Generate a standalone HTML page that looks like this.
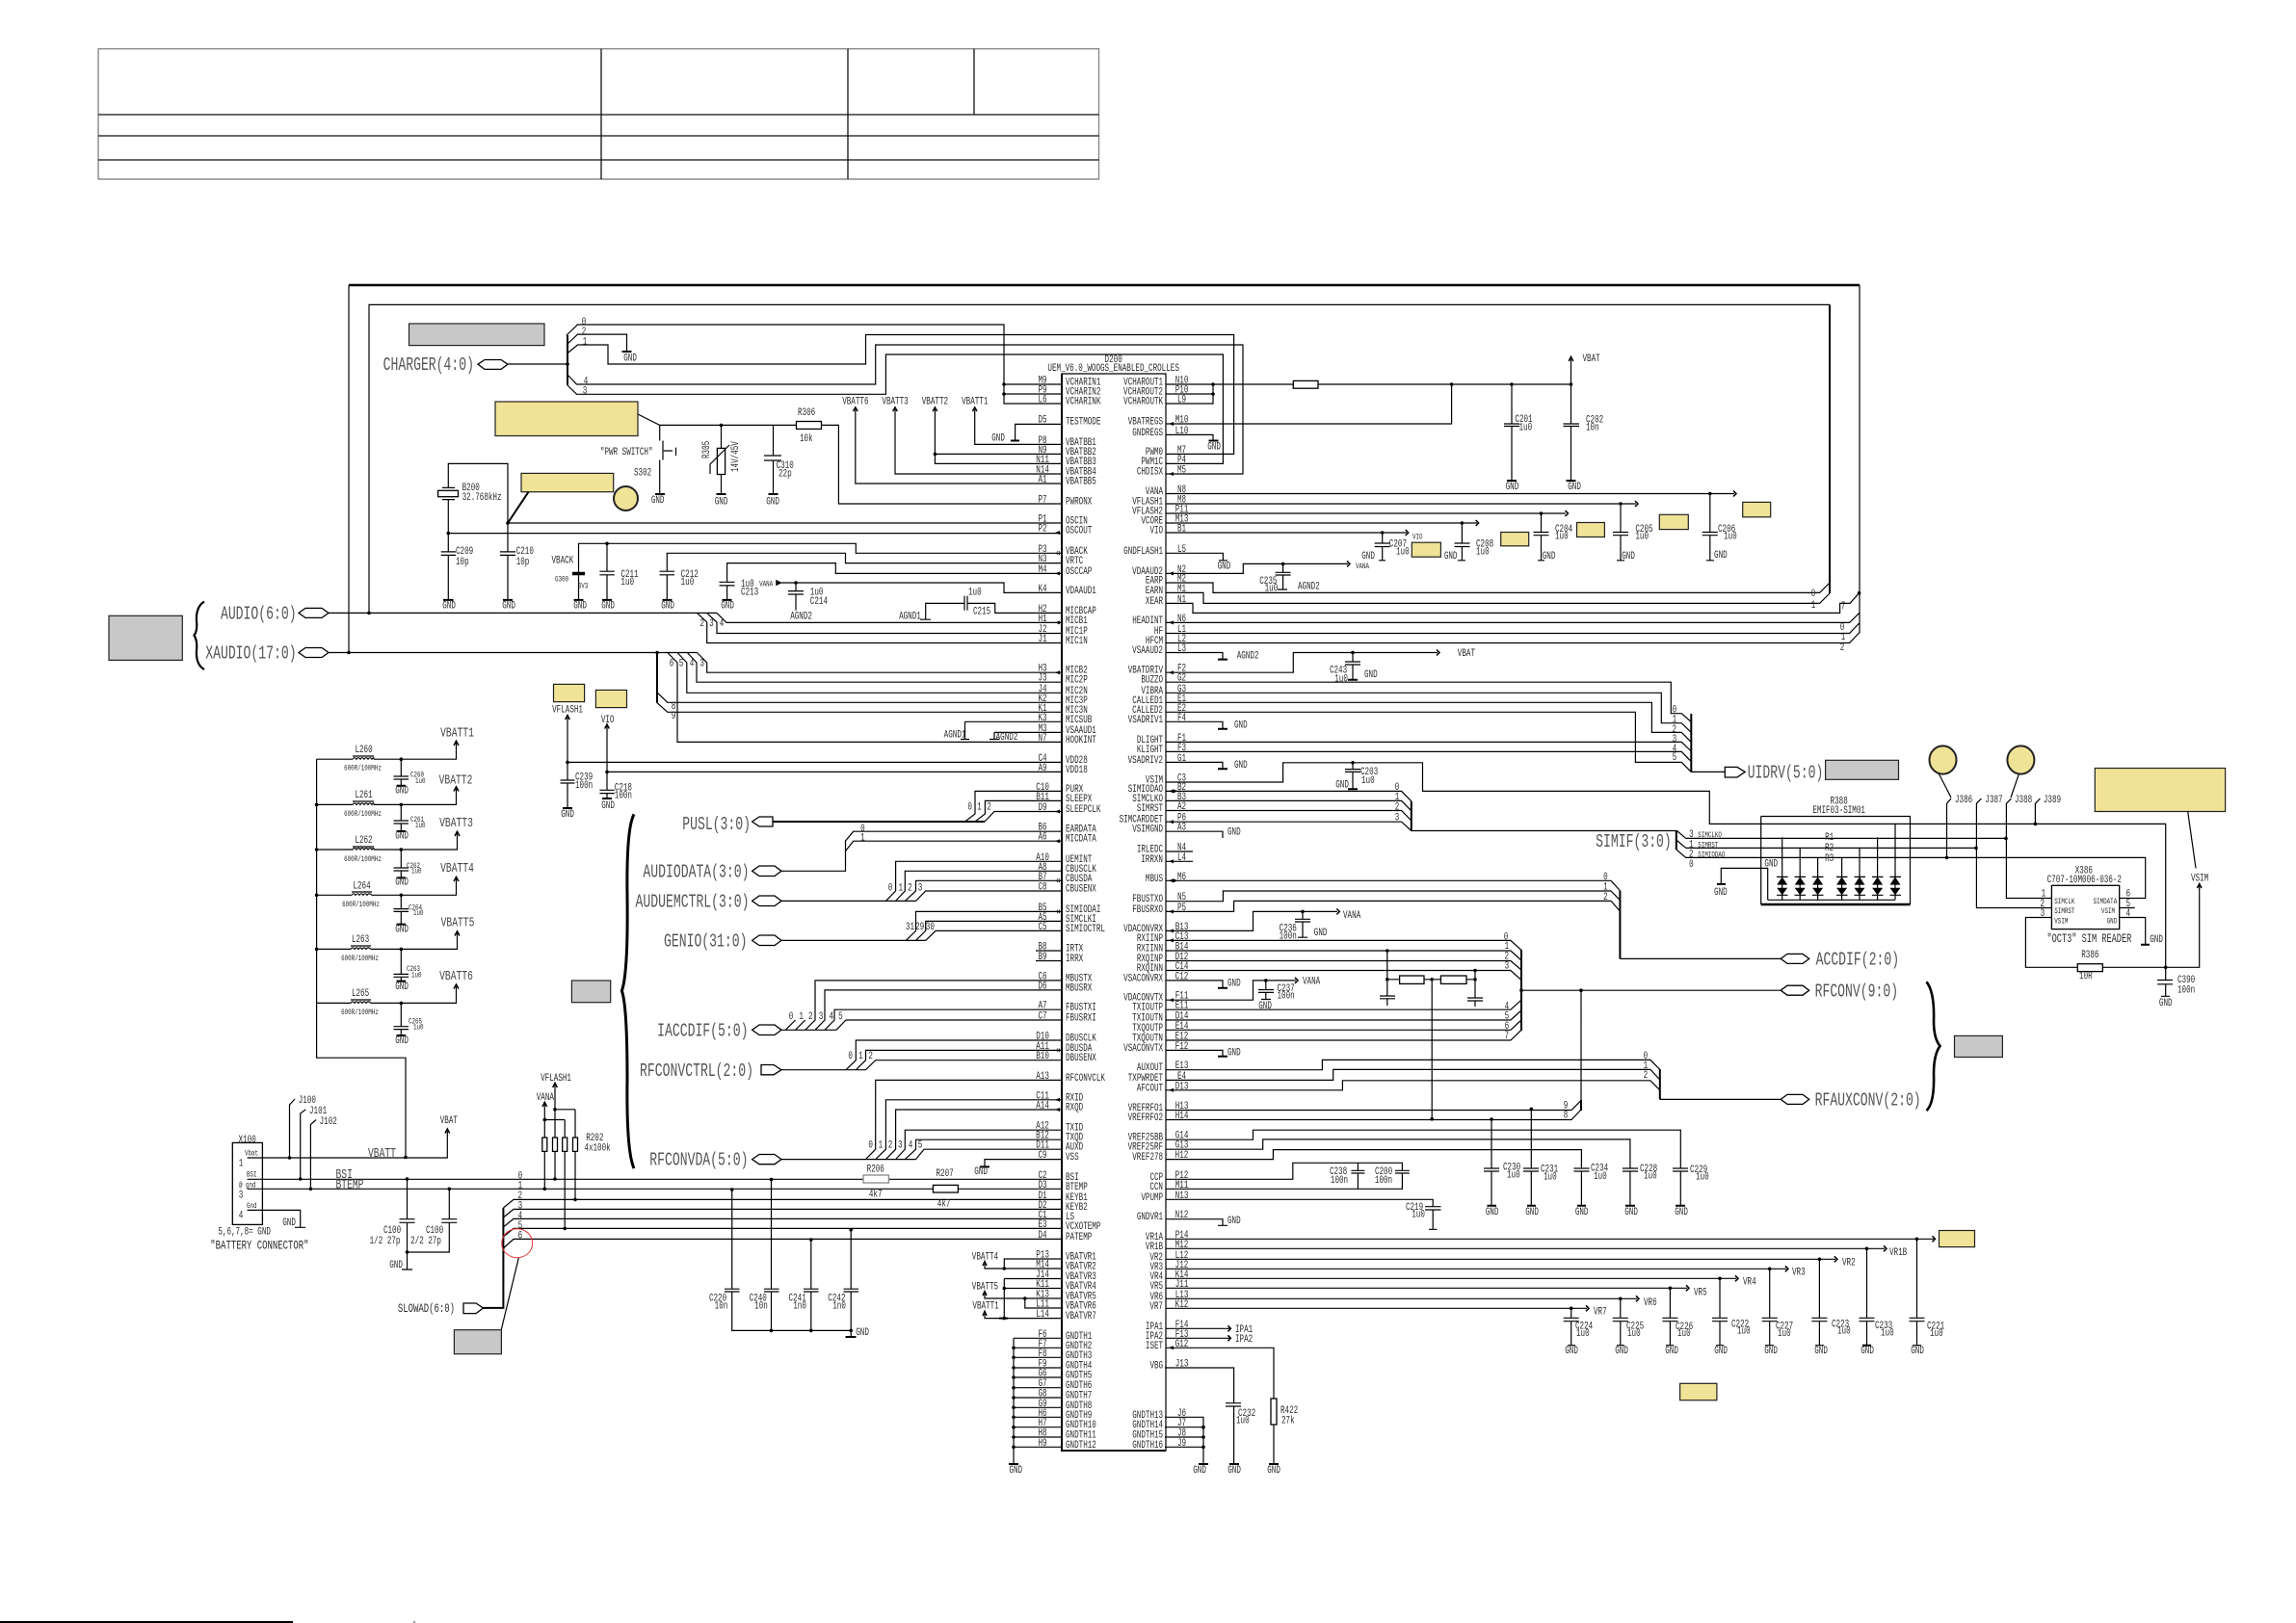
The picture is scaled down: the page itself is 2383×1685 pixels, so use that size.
<!DOCTYPE html>
<html><head><meta charset="utf-8"><title>Schematic</title>
<style>
html,body{margin:0;padding:0;background:#fff}
svg{display:block}
text{font-family:"Liberation Mono",monospace;font-size:11px;fill:#2a2a2a;transform-box:fill-box;transform-origin:0 50%;transform:scaleX(.69)}
.e text{text-anchor:end;transform-origin:100% 50%}
.m text{text-anchor:middle;transform-origin:50% 50%}
.t text{font-size:8.5px}
.b text{font-size:19px;transform:scaleX(.69);fill:#555}
.c text{font-size:14px;fill:#444}
.w{fill:none;stroke:#000;stroke-width:1.2}
.h{fill:none;stroke:#000;stroke-width:2}
.d{fill:none;stroke:#000;stroke-width:3.6;stroke-linecap:round}
.g{fill:#c8c8c8;stroke:#222;stroke-width:1.2}
.y{fill:#f0e296;stroke:#222;stroke-width:1.2}
.o{fill:#fff;stroke:#000;stroke-width:1.3}
.k{fill:#000;stroke:none}
</style></head><body>
<svg xmlns="http://www.w3.org/2000/svg" width="2383" height="1685" viewBox="0 0 2383 1685">
<rect width="2383" height="1685" fill="#fff"/>
<!-- table -->
<path fill="none" stroke="#8a8a8a" stroke-width="1.4" d="M102 50.7H1140.5V186H102Z"/>
<path fill="none" stroke="#111" stroke-width="1.3" d="M102 119H1140.5M102 141H1140.5M102 166H1140.5M624 50.7V186M880 50.7V186M1011 50.7V119"/>
<path class="h" d="M0 1684H304"/><path stroke="#224" d="M430 1683v2"/>

<!-- boxes -->
<rect class="g" x="424.5" y="336" width="140.5" height="22.6"/>
<rect class="g" x="113" y="639.3" width="76.3" height="46.1"/>
<rect class="g" x="593.4" y="1018" width="40.3" height="22.7"/>
<rect class="g" x="471.4" y="1380.7" width="49" height="25"/>
<rect class="g" x="1894.6" y="789.3" width="75.9" height="20"/>
<rect class="g" x="2028.5" y="1075.4" width="49.9" height="22.1"/>
<rect class="y" x="514" y="417" width="148" height="35.5"/>
<rect class="y" x="541" y="491.4" width="95.7" height="19.3"/>
<ellipse class="y" cx="649.5" cy="517.5" rx="12.5" ry="12.5" style="stroke-width:2"/>
<rect class="y" x="574.5" y="710.4" width="32.1" height="18.2"/>
<rect class="y" x="618.4" y="716.4" width="32.1" height="18.2"/>
<rect class="y" x="1465.3" y="563.2" width="30.1" height="15"/>
<rect class="y" x="1557.7" y="552.5" width="29" height="14.3"/>
<rect class="y" x="1636.5" y="542.5" width="28.9" height="15"/>
<rect class="y" x="1722.3" y="534.3" width="30" height="15.3"/>
<rect class="y" x="1808.7" y="521.4" width="29" height="15.4"/>
<ellipse class="y" cx="2016.5" cy="789" rx="14" ry="14.6" style="stroke-width:2"/>
<ellipse class="y" cx="2097.4" cy="789" rx="14" ry="14.6" style="stroke-width:2"/>
<rect class="y" x="2174.3" y="797.5" width="135.3" height="45"/>
<rect class="y" x="2012.5" y="1277.5" width="37" height="17.1"/>
<rect class="y" x="1743.6" y="1436.3" width="38.3" height="17.4"/>

<!-- chip -->
<path class="w" d="M1102 388H1210V1506H1102Z"/>
<path class="h" d="M1102 388V1506H1210"/>
<path class="h" style="stroke-width:2.6" d="M362 296H1930"/>

<!-- thin wires -->
<path class="w" d="M362 677.5V296M1930 296V657.5M383 636.4V316.4H1899
M341 636.4H744M723.5 636.4L733.7 646V667.5H1102M733.7 636.4L744 646V657.5H1102M744 636.4L754 646.4H1102
M341 677.5H723.5M682 677.5V729.3M692.8 677.5L703 688V770.4H1102M703 677.5L712.8 688V719.3H1102M713.3 677.5L723 688V708.2H1102M723.5 677.5L733.7 688V698.2H1102
M681.6 718.6L692.8 729.3H1102M681.6 729.3L692.8 739.3H1102
M527 378H589M588 348L599.5 337H1042V419H1102M1042 399H1102M1042 409H1102
M588 358L599.5 347.1H650.5V365M588 367.5L599.5 358H631V378H898.5V347.5H1280.6V471.4H1210
M589 389L598.5 399H908.7V358H1290V492H1210M589 400L598.5 409.3H919.4V368H1269.4V481.4H1210
M1102 440.4H1053.6V457.5M1011.7 425V461.4H1102M970.4 425V481.4H1102M970.4 471.4H1102M929 425V492H1102M887.8 425V502H1102
M662 430L684.7 441.4H826.5M852.5 441.4H870.4V523H1102M684.7 441.4V457.5M684.7 477.5V513M688 457.5V477.5M688.8 468H698M701.5 464.6V473
M748.5 441.4V465.4M748.5 492.5V513M737 492V482L757 462M802.5 441.4V473M802.5 478V513M793 473H811M793 478H811
M465.3 506V481.4H527V543H1102M527 543V572.9M527 576.4V622.9M519 572.9H535M519 576.4H535
M465.3 518.6V572.9M465.3 576.4V622.9M457.7 572.9H473M457.7 576.4H473M459 506.4H472M459 518.6H472M465.3 553.6H1102
M600.5 594.4V564.3H888.3V574.3H1102M600.5 596V622.9M594 594.4H607M630 564.3V593.2M630 596.8V622.9M622.4 593.2H637.8M622.4 596.8H637.8
M692.3 593.2V574.3H877.5V584.6H1102M692.3 596.8V622.9M684.5 593.2H700M684.5 596.8H700
M754.6 604.3V584.6H867.3V595.4H1102M754.6 607.9V622.9M746.5 604.3H762.5M746.5 607.9H762.5
M806 605H1042V615.4H1102M826 605V613.6M826 617V633.6M818 613.6H834M818 617H834
M955 643.2H966M960.7 643.2V626.4H1001M1004 626.4H1032.7V636.4H1102M1001 618.6V633.6M1004 618.6V633.6
M589 791.4H1102M630 801.4H1102M589 745V810M589 813V839M581.6 810H596.4M581.6 813H596.4M630 754V820.3M630 823.6V829M622.4 820.3H637.8M622.4 823.6H637.8
M1001.5 749.3H1102M1001.5 749.3V767.5M997 767.5H1006M1032 760.4H1102M1032 760.4V767.5M1027 767.5H1037
M328.6 788.2V1098.2H421V1201.4M328.6 788.2H366M388 788.2H416.3H473.5V771M328.6 835.4H366M388 835.4H473.5V818M328.6 882H366M388 882H474.5V865M328.6 929.3H365M386 929.3H473.5V912M328.6 985.4H364M385 985.4H474.5V968M328.6 1041.4H364M385 1041.4H473.5V1024
M416.3 788.2V806M416.3 809V815.7M408.5 806H424M408.5 809H424M416.3 835.4V852M416.3 855V863M408.5 852H424M408.5 855H424M416.3 882V901M416.3 904V911.4M408.5 901H424M408.5 904H424M416.3 929.3V943.6M416.3 946.4V959.6M408.5 943.6H424M408.5 946.4H424M416.3 985.4V1011.4M416.3 1014.3V1018.6M408.5 1011.4H424M408.5 1014.3H424M416.3 1041.4V1065.7M416.3 1068.6V1075M408.5 1065.7H424M408.5 1068.6H424
M366 788.2q2 -3 4 0q2 -3 4 0q2 -3 4 0q2 -3 4 0q2 -3 4 0q2 -3 2 0M366 835.4q2 -3 4 0q2 -3 4 0q2 -3 4 0q2 -3 4 0q2 -3 4 0q2 -3 2 0M366 882q2 -3 4 0q2 -3 4 0q2 -3 4 0q2 -3 4 0q2 -3 4 0q2 -3 2 0M365 929.3q2 -3 4 0q2 -3 4 0q2 -3 4 0q2 -3 4 0q2 -3 5 0M364 985.4q2 -3 4 0q2 -3 4 0q2 -3 4 0q2 -3 4 0q2 -3 5 0M364 1041.4q2 -3 4 0q2 -3 4 0q2 -3 4 0q2 -3 4 0q2 -3 5 0
M366 785H388M366 832H388M366 879H388M365 926H386M364 982H385M364 1038H385
M256.6 1202H464.3V1174M300.5 1202V1147L306 1141M311.7 1224V1156L317.3 1151.8M322.4 1234.3V1167.5L328 1162.5
M256.6 1224.3H896M922.4 1224.3H1102M256.6 1234.3H968.4M994.4 1234.3H1102
M422.5 1224V1265.7M422.5 1269.3V1318M414.5 1265.7H430.5M414.5 1269.3H430.5M466.3 1234.3V1265.7M466.3 1269.3V1300H422.5M458.3 1265.7H474.3M458.3 1269.3H474.3M417 1318H428
M256.6 1256.4H311.7V1274.3M306 1274.3H317
M522.4 1254L533 1245.4H1102M522.4 1264L533 1255.4H1102M522.4 1274L533 1265.4H1102M522.4 1284L533 1275.4H1102M522.4 1296L533 1286.4H1102
M538.3 1306L520.4 1380
M565.3 1146V1181M565.3 1195.4V1234.3M576 1126V1181M576 1195.4V1224M586.2 1162.5V1181M586.2 1195.4V1275.4M597 1151.8V1181M597 1195.4V1245.4M576 1151.8H597M565.3 1162.5H586.2
M811 904.3H877.5V873L885.7 863.2H1102M877.5 883.6L885.7 873.2H1102
M811 935.4H950.5M919.4 935.4L929.6 925V894.3H1102M929.6 935.4L939.3 925V904.3H1102M939.3 935.4L950.5 925V914.3H1102M950.5 935.4L960.7 925H1102
M811 976.4H960.7M940.3 976.4L950.5 966.4V946.4H1102M950.5 976.4L960.7 966.4V956.4H1102M960.7 976.4L971 966.4H1102
M811 1069.3H868M815.3 1069.3L825.5 1059M825.5 1069.3L835.7 1059M835.7 1069.3L846 1059V1017.9H1102M846 1069.3L856 1059V1027.9H1102M856 1069.3L866 1059V1048.2H1102M868 1069.3L878 1059H1102
M811 1110.7H898.5M878 1110.7L888.3 1100.7V1080H1102M888.3 1110.7L898.5 1100.7V1090.4H1102M898.5 1110.7L908.7 1100.7H1102
M811 1203.6H950.5M898.5 1203.6L908.7 1193.2V1121.4H1102M908.7 1203.6L919.4 1193.2V1141.8H1102M919.4 1203.6L929.6 1193.2V1152H1102M929.6 1203.6L939.3 1193.2V1173.2H1102M939.3 1203.6L950.5 1193.2V1183.2H1102M950.5 1203.6L959 1193.2H1102
M1102 1203.6H1022V1211.4M1075 987H1102M1075 997.5H1102
M1001.5 853L1012 845V821.4H1102M1012 853L1022.4 845V831.4H1102M1022 853L1032 842.5H1102
M759.7 1235V1338.2M759.7 1341V1381.4H883.2M800.5 1224.6V1338.2M800.5 1341V1381.4M841.8 1287V1338.2M841.8 1341V1381.4M883.2 1276.8V1338.2M883.2 1341V1388M752 1338.2H767.5M752 1341H767.5M793 1338.2H808.5M793 1341H808.5M834 1338.2H849.5M834 1341H849.5M875.5 1338.2H891M875.5 1341H891
M1102 1307H1042.3V1317M1022 1312V1317H1102M1042.3 1327.5H1102V1327.5M1042.3 1327.5V1368.6M1042.3 1337.5H1102M1022 1343V1348H1102M1063.8 1348V1358H1102M1022 1364V1368.6H1102
M1052 1389.3V1520M1052 1389.3H1102M1052 1399.3H1102M1052 1409.3H1102M1052 1420H1102M1052 1430H1102M1052 1440.7H1102M1052 1451H1102M1052 1461.3H1102M1052 1471.3H1102M1052 1481.7H1102M1052 1492H1102M1052 1502.3H1102
M1209 1471.3H1249V1520M1209 1481.7H1249M1209 1492H1249M1209 1502.3H1249
M1209 1420H1280.6V1456.7M1280.6 1460V1520M1272 1456.7H1288M1272 1460H1288M1210 1399.3H1322V1452M1322 1479V1520
M1210 399H1342.3M1368 399H1630.5V373M1259 399V419H1210M1259 409H1210M1210 440H1506.6V399M1210 451.4H1259V457.5
M1569 399V440M1569 442.5V499M1561 440H1577M1561 442.5H1577M1630.5 440V399M1630.5 442.5V499M1622.5 440H1639M1622.5 442.5H1639
M1210 512.5H1800M1774.8 512.5V552.5M1774.8 555.7V581.8M1766.8 552.5H1782.8M1766.8 555.7H1782.8M1771 581.8H1779
M1210 523H1698M1682 523V552.5M1682 555.7V581.8M1674 552.5H1690M1674 555.7H1690M1678 581.8H1686
M1210 533H1625M1599.5 533V552.5M1599.5 555.7V581.8M1591.5 552.5H1607.5M1591.5 555.7H1607.5M1596 581.8H1603
M1210 543H1533M1517.4 543V564M1517.4 567.5V581.8M1509.5 564H1525.5M1509.5 567.5H1525.5M1513 581.8H1521
M1210 553H1460M1434.7 553V564M1434.7 567.5V581.8M1426.7 564H1442.7M1426.7 567.5H1442.7M1431 581.8H1438
M1210 574.3H1269.4V581.8M1265 581.8H1274
M1210 595.4H1290.3V585.4H1399M1331.6 585.4V594.3M1331.6 597V612M1323.6 594.3H1339.6M1323.6 597H1339.6M1326 612H1336
M1210 605H1259V615.4H1888.6L1899 605M1210 615.4H1249V626.4H1888.6L1899 616M1210 626.4H1238V636.4H1909.6V626.4H1920L1929.6 615.7
M1210 646.4H1919.6L1929.6 636.6M1210 657.5H1919.6L1929.6 647M1210 667.5H1919.6L1929.6 657
M1210 677.5H1269V684.6M1210 698.2H1342.3V677.5H1492M1404 677.5V687M1404 690V705.7M1396 687H1412M1396 690H1412
M1210 708.2H1734.3V740.7H1745.3L1755.3 749.5M1210 719.3H1724.3V750.7H1745.3L1755.3 760.4M1210 729.3H1714.4V760.4H1745.3L1755.3 770.4M1210 739.3H1697.4V791.4H1745.3L1755.3 801.4M1210 770.4H1745.3L1755.3 780M1210 780.4H1745.3L1755.3 790.7M1755.3 801.4H1790.3
M1210 749.3H1269V756.8M1210 791.4H1269V798.2
M1210 812H1331.6V791.8H1476.5V821.4H1774.3V855.4H2247.7V1004.3M1404 791.8V798.6M1404 801.4V819.3M1396 798.6H1412M1396 801.4H1412
M1210 821.4H1454.6L1464.8 831.8M1210 831.4H1454.6L1464.8 841.8M1210 841.5H1454.6L1464.8 852M1210 853.2H1454.6L1464.8 862.5H1739.8M1210 863.2H1269V870M1210 884H1238M1210 894.3H1238
M1739.8 862L1749.8 870.4H2082M1739.8 872L1749.8 880.4H2051M1739.8 882L1749.8 890.4H2226.7V932.5H2199.7
M1849.7 869.3V934.3M1868.2 879.6V934.3M1886.6 890V934.3M1911.6 890V934.3M1930 879.6V934.3M1948.6 869.3V934.3M1967 855.4V934.3M1834.7 934.3H1967M1834.7 934.3V901.4H1786.3V917.9
M1827.7 847.5H1982.5V939M1827.7 847.5V939
M2020.5 890.4V834.3L2025 829M2051.4 880.4V834.3L2056.4 829M2082.4 870.4V834.3L2087.4 829M2112.4 855.4V834.3L2117.4 829
M2012.5 803.6L2025 828M2095.4 803.6L2087 828M2270.7 842.5L2279 901.4
M2082.4 870V932.5H2129.4M2051.4 880V942.5H2129.4M2129.4 952.5H2102.4V1004.3H2156.3M2182.3 1004.3H2282.7V919M2199.7 942.5H2215.7M2199.7 952.5H2226.7V980.7M2247.7 1004.3V1017.5M2247.7 1021.8V1034.3M2239 1017.5H2255M2239 1021.8H2255M2243 1034.3H2252
M1210 914.3H1672L1681.4 924.6M1210 935.7H1269.4V925H1672L1681.4 934.6M1210 946.4H1280.6V935.4H1672L1681.4 946M1681.4 995.4H1848.2
M1210 966.4H1300.5V946.4H1388M1352 946.4V954.3M1352 957V973.2M1344 954.3H1360M1344 957H1360M1347 973.2H1357
M1210 976.4H1567.9L1579 986.4M1210 987H1567.9L1579 997M1210 997.5H1567.9L1579 1007M1210 1007.5H1567.9L1579 1017.5
M1210 1048.2H1567.9L1579 1038.2M1210 1059H1567.9L1579 1049M1210 1069.3H1567.9L1579 1059M1210 1080H1567.9L1579 1069.3
M1579 1028.2H1848.2M1641 1028.2V1153M1439.8 987V1034M1439.8 1036.8V1044M1432 1034H1448M1432 1036.8H1448M1439.8 1016.8H1452.6M1478 1016.8H1495.4M1522 1016.8H1531M1531 1007.5V1036M1531 1039V1045M1523 1036H1539M1523 1039H1539M1486.2 1016.8V1161.8
M1210 1017.9H1269V1025.7M1210 1038.2H1300.5V1017.9H1345M1313.8 1017.9V1027.5M1313.8 1030.4V1037.5M1306 1027.5H1322M1306 1030.4H1322M1309 1037.5H1319
M1210 1090.4H1269V1096.8
M1210 1110.7H1372.4V1100.4H1712.9L1722.8 1110.4M1210 1121.4H1383.7V1110.4H1712.9L1722.8 1121M1210 1131.8H1393.4V1121.8H1712.9L1722.8 1131.8M1722.8 1141.4H1848.2
M1210 1152.5H1631L1641 1142.5M1210 1162.5H1631L1641 1152
M1210 1183.2H1300.5V1173.2H1744.3V1213M1744.3 1216V1251.4M1736 1213H1752M1736 1216H1752M1210 1193.2H1310.7V1182.9H1691.9V1213M1691.9 1216V1251.4M1684 1213H1700M1684 1216H1700M1210 1203.6H1321.4V1193.6H1641.4V1213M1641.4 1216V1251.4M1633.5 1213H1649.5M1633.5 1216H1649.5
M1548 1162.5V1213M1548 1216V1251.4M1540 1213H1556M1540 1216H1556M1589.3 1151.4V1213M1589.3 1216V1251.4M1581 1213H1597M1581 1216H1597
M1210 1224.3H1341.8V1207.3H1455.4V1215.3M1455.4 1218V1234.3H1210M1409.4 1207.3V1215.3M1409.4 1218V1234.3M1402.4 1215.3H1416.4M1402.4 1218H1416.4M1448 1215.3H1462.8M1448 1218H1462.8
M1210 1245.3H1487.2V1252.7M1487.2 1256V1276.3M1479 1252.7H1495.5M1479 1256H1495.5M1483 1276.3H1491.5
M1210 1265.7H1269V1272.3M1264 1272.3H1274
M1210 1286.3H2007M1210 1296.3H1956M1210 1307.3H1905M1210 1317.3H1854M1210 1327.3H1802M1210 1337.3H1751M1210 1348.3H1699M1210 1358.3H1647M1210 1379.3H1276M1210 1389.3H1276
M1630.7 1358.3V1368.3M1630.7 1371.7V1396.7M1622.7 1368.3H1638.7M1622.7 1371.7H1638.7M1627 1396.7H1635
M1681.8 1348.3V1368.3M1681.8 1371.7V1396.7M1673.8 1368.3H1689.8M1673.8 1371.7H1689.8M1678 1396.7H1686
M1733.4 1337.3V1368.3M1733.4 1371.7V1396.7M1725.4 1368.3H1741.4M1725.4 1371.7H1741.4M1729 1396.7H1737
M1785 1327.3V1368.3M1785 1371.7V1396.7M1777 1368.3H1793M1777 1371.7H1793M1781 1396.7H1789
M1836.7 1317.3V1368.3M1836.7 1371.7V1396.7M1828.7 1368.3H1844.7M1828.7 1371.7H1844.7M1832 1396.7H1841
M1888.4 1307.3V1368.3M1888.4 1371.7V1396.7M1880.4 1368.3H1896.4M1880.4 1371.7H1896.4M1884 1396.7H1893
M1937.5 1296.3V1368.3M1937.5 1371.7V1396.7M1929.5 1368.3H1945.5M1929.5 1371.7H1945.5
M1989.5 1286.3V1368.3M1989.5 1371.7V1396.7M1981.5 1368.3H1997.5M1981.5 1371.7H1997.5M1985 1396.7H1994
"/>
<!-- thick parts -->
<path class="h" d="M1899 316.4V616M589 348V400M682 677.5V729.3M522.4 1254V1357.9H501.5M802 853H1022M1755.3 741V801.4M1464.8 831.8V862.5M1739.8 862V882M1681.4 924.6V995.4M1579 986V1070M1722.8 1110V1141.4M548.5 510.7L527 543M1641 1142V1153"/>
<path fill="none" stroke="#000" stroke-width="2.4" d="M1827.7 939H1982.5M600.5 596H594M594 596H607"/>
<!-- GND bars -->
<path class="h" d="M645.5 365H655.5M680 513H690M743.5 513H753.5M797.5 513H807.5M460 622.9H470.5M522 622.9H532M595.5 622.9H605.5M625 622.9H635M687.5 622.9H697.5M749.5 622.9H759.5M584 839H594M625 829H635M411.5 815.7H421M411.5 863H421M411.5 911.4H421M411.5 959.6H421M411.5 1018.6H421M411.5 1075H421M1254.5 457.5H1264.5M1049 457.5H1058M1564 499H1574M1625.5 499H1635.5M1264 684.6H1274M1399 705.7H1409M1264 756.8H1274M1264 798.2H1274M1399 819.3H1409M1782 917.9H1791M1264 1025.7H1274M1264 1096.8H1274M1017 1211.4H1027M1047 1520H1057M1244 1520H1254M1276 1520H1286M1317 1520H1327M877.5 1388H888.5M1543.5 1251.7H1553M1585 1251.7H1594M1637 1251.7H1646M1687 1251.7H1697M1739 1251.7H1749M1933 1396.7H1942M2222 980.7H2231M1037 1368.6H1046"/>
<!-- dots -->
<path class="d" d="M383 636.4h0M362 677.5h0M682 677.5h0M589 378h0M1042 399h0M1042 409h0M748.5 441.4h0M970.4 471.4h0M465.3 553.6h0M527 543h0M630 564.3h0M826 605h0M589 791.4h0M630 801.4h0M416.3 788.2h0M416.3 835.4h0M416.3 882h0M416.3 929.3h0M416.3 985.4h0M416.3 1041.4h0M328.6 835.4h0M328.6 882h0M328.6 929.3h0M328.6 985.4h0M300.5 1202h0M421 1201.4h0M311.7 1224h0M322.4 1234.3h0M422.5 1224h0M466.3 1234.3h0M422.5 1300h0M565.3 1234.3h0M576 1224h0M576 1151.8h0M565.3 1162.5h0M597 1245.4h0M586.2 1275.4h0M759.7 1235h0M800.5 1224.6h0M841.8 1287h0M883.2 1276.8h0M800.5 1381.4h0M841.8 1381.4h0M883.2 1381.4h0M1042.3 1317h0M1042.3 1337.5h0M1063.8 1348h0M1042.3 1368.6h0M1052 1399.3h0M1052 1409.3h0M1052 1420h0M1052 1430h0M1052 1440.7h0M1052 1451h0M1052 1461.3h0M1052 1471.3h0M1052 1481.7h0M1052 1492h0M1052 1502.3h0M1249 1481.7h0M1249 1492h0M1249 1502.3h0M1259 399h0M1259 409h0M1506.6 399h0M1569 399h0M1630.5 399h0M1774.8 512.5h0M1682 523h0M1599.5 533h0M1517.4 543h0M1434.7 553h0M1331.6 585.4h0M1404 677.5h0M1404 791.8h0M1929.6 615.7h0M2247.7 1004.3h0M2082 870.4h0M2051 880.4h0M2020.5 890.4h0M2112.4 855.4h0M1352 946.4h0M1439.8 987h0M1439.8 1016.8h0M1486.2 1016.8h0M1531 1016.8h0M1531 1007.5h0M1579 1028.2h0M1641 1028.2h0M1313.8 1017.9h0M1486.2 1161.8h0M1548 1162h0M1589.3 1151.4h0M1989.5 1286.3h0M1937.5 1296.3h0M1888.4 1307.3h0M1836.7 1317.3h0M1785 1327.3h0M1733.4 1337.3h0M1681.8 1348.3h0M1630.7 1358.3h0"/>
<!-- arrows -->
<path fill="none" stroke="#000" stroke-width="1.5" d="M471 774L473.5 769.2L476 774M471 821.5L473.5 816.8L476 821.5M472 868L474.5 863.2L477 868M471 915L473.5 910.4L476 915M472 971.5L474.5 966.8L477 971.5M471 1026.5L473.5 1022L476 1026.5M462 1176.5L464.3 1172L466.7 1176.5M563 1149L565.3 1144.3L567.7 1149M573.7 1129L576 1124.3L578.3 1129M586.7 747L589 742.5L591.3 747M627.7 756.5L630 752L632.3 756.5M1628.2 375L1630.5 370.4L1632.8 375M1009.4 427L1011.7 422.9L1014 427M968.1 427L970.4 422.9L972.7 427M926.7 427L929 422.9L931.3 427M885.5 427L887.8 422.9L890.1 427M1020 1314L1022 1309.6L1024 1314M1020 1345L1022 1340.7L1024 1345M1020 1366L1022 1361.4L1024 1366M2280.4 922L2282.7 917.5L2285 922M1799 509.5L1802 512.5L1799 515.5M1697 520L1700 523L1697 526M1624.5 530L1627.5 533L1624.5 536M1531.7 540L1534.7 543L1531.7 546M1458.7 550L1461.7 553L1458.7 556M1398 582.4L1401 585.4L1398 588.4M1491 674.5L1494 677.5L1491 680.5M1387.3 943.4L1390.3 946.4L1387.3 949.4M1344 1014.9L1347 1017.9L1344 1020.9M2005.5 1283.3L2008.5 1286.3L2005.5 1289.3M1955 1293.3L1958 1296.3L1955 1299.3M1903.9 1304.3L1906.9 1307.3L1903.9 1310.3M1852.9 1314.3L1855.9 1317.3L1852.9 1320.3M1801 1324.3L1804 1327.3L1801 1330.3M1750 1334.3L1753 1337.3L1750 1340.3M1698 1345.3L1701 1348.3L1698 1351.3M1646 1355.3L1649 1358.3L1646 1361.3M1274.4 1376.3L1277.4 1379.3L1274.4 1382.3M1274.4 1386.3L1277.4 1389.3L1274.4 1392.3M810 605L806 603L806 607Z"/>
<!-- pin arrows -->
<path class="k" d="M1095 553l5-2v4zM1095 574.3l5-2v4zM1095 595.4l5-2v4zM1095 646.4l5-2v4zM1095 698.2l5-2v4zM1095 842.5l5-2v4zM1095 873.2l5-2v4zM1095 914.3l5-2v4zM1095 946.4l5-2v4zM1095 1090.4l5-2v4zM1095 1141.8l5-2v4zM1095 1152l5-2v4zM1101 574.3l-4-2v4zM1101 914.3l-4-2v4zM1101 946.4l-4-2v4zM1101 1090.4l-4-2v4zM1213 440l5-2v4zM1213 492l5-2v4zM1213 595.4l5-2v4zM1213 646.4l5-2v4zM1213 698.2l5-2v4zM1213 821.4l5-2v4zM1213 853.2l5-2v4zM1213 894.3l5-2v4zM1213 914.3l5-2v4zM1213 946.4l5-2v4zM1213 966.4l5-2v4zM1213 976.4l5-2v4zM1213 1038.2l5-2v4zM1213 1131.8l5-2v4zM1213 1399.3l5-2v4zM1222 821.4l-4-2v4zM1222 914.3l-4-2v4z"/>
<!-- diodes -->
<path class="k" d="M1844.2 918.6H1855.2L1849.7 910.4ZM1844.2 921.8H1855.2L1849.7 929.3ZM1862.7 918.6H1873.7L1868.2 910.4ZM1862.7 921.8H1873.7L1868.2 929.3ZM1881.1 918.6H1892.1L1886.6 910.4ZM1881.1 921.8H1892.1L1886.6 929.3ZM1906.1 918.6H1917.1L1911.6 910.4ZM1906.1 921.8H1917.1L1911.6 929.3ZM1924.5 918.6H1935.5L1930 910.4ZM1924.5 921.8H1935.5L1930 929.3ZM1943.1 918.6H1954.1L1948.6 910.4ZM1943.1 921.8H1954.1L1948.6 929.3ZM1961.5 918.6H1972.5L1967 910.4ZM1961.5 921.8H1972.5L1967 929.3Z"/>
<path class="w" d="M1844 910.4H1855.5M1844 929.3H1855.5M1862.5 910.4H1874M1862.5 929.3H1874M1881 910.4H1892.5M1881 929.3H1892.5M1906 910.4H1917.5M1906 929.3H1917.5M1924.5 910.4H1936M1924.5 929.3H1936M1943 910.4H1954.5M1943 929.3H1954.5M1961.5 910.4H1973M1961.5 929.3H1973"/>
<!-- components -->
<g class="o">
<rect x="1342.3" y="395.4" width="25.7" height="7.8"/><rect x="826.5" y="437.5" width="26" height="7.9"/><rect x="744.4" y="465.4" width="8.2" height="27.1" fill="none"/><rect x="454.6" y="509.3" width="20.9" height="6.4"/>
<rect x="896" y="1220" width="26.4" height="8" style="stroke:#888"/><rect x="968.4" y="1230.4" width="26" height="7.6"/>
<rect x="562.8" y="1181" width="5" height="14.4"/><rect x="573.5" y="1181" width="5" height="14.4"/><rect x="583.7" y="1181" width="5" height="14.4"/><rect x="594.5" y="1181" width="5" height="14.4"/>
<rect x="1452.6" y="1013" width="25.4" height="8.4"/><rect x="1495.4" y="1013" width="26.6" height="8.4"/>
<rect x="1319" y="1452" width="6" height="27"/><rect x="2156.3" y="1000.7" width="26" height="7.9"/>
<rect x="241.3" y="1186.4" width="31.1" height="85" fill="none"/><rect x="2129.4" y="919.3" width="70.3" height="45.3"/>
<polygon points="310,636.4 317,631.4 334,631.4 341,636.4 334,641.4 317,641.4"/><polygon points="310,677.5 317,672.5 334,672.5 341,677.5 334,682.5 317,682.5"/>
<polygon points="496,378.2 503,373.5 520,373.5 527,378.2 520,383.4 503,383.4"/>
<polygon points="780.6,853 788,848 802,848 802,858 788,858"/>
<polygon points="780.6,904.3 788,899 804,899 811,904.3 804,909.5 788,909.5"/><polygon points="780.6,935.4 788,930 804,930 811,935.4 804,940.5 788,940.5"/><polygon points="780.6,976.4 788,971 804,971 811,976.4 804,981.5 788,981.5"/><polygon points="780.6,1069.3 788,1064 804,1064 811,1069.3 804,1074.5 788,1074.5"/><polygon points="780.6,1203.6 788,1198.5 804,1198.5 811,1203.6 804,1208.7 788,1208.7"/>
<polygon points="790,1105.5 803,1105.5 811,1110.7 803,1115.8 790,1115.8"/>
<polygon points="481,1353 494,1353 501.5,1358 494,1363.6 481,1363.6"/><polygon points="1790.3,796.4 1803,796.4 1811.2,801.4 1803,807 1790.3,807"/>
<polygon points="1848.2,995.4 1855,990.4 1871,990.4 1877.7,995.4 1871,1000.4 1855,1000.4"/><polygon points="1848.2,1028.2 1855,1023.2 1871,1023.2 1877.7,1028.2 1871,1033.2 1855,1033.2"/><polygon points="1848.2,1141.4 1855,1136.4 1871,1136.4 1877.7,1141.4 1871,1146.4 1855,1146.4"/>
</g>
<!-- braces & red circle -->
<path fill="none" stroke="#000" stroke-width="2.2" d="M212 624.6Q203 630 204 645Q205 655 201.5 659.6Q205 665 204 675Q203 690 212 695"/>
<path fill="none" stroke="#000" stroke-width="3" d="M658 845.4Q650 860 651 930Q652 1010 645.4 1028.6Q651 1045 651 1120Q650 1195 658 1213"/>
<path fill="none" stroke="#000" stroke-width="2.6" d="M1999.5 1019.3Q2008 1030 2007 1060Q2007 1078 2013.5 1086Q2007 1095 2007 1115Q2008 1145 1999.5 1153"/>
<ellipse cx="536.7" cy="1290.7" rx="16" ry="15" fill="none" stroke="#e33" stroke-width="1"/>

<!-- chip texts left names -->
<g>
<text x="1106" y="399.5">VCHARIN1</text><text x="1106" y="409.5">VCHARIN2</text><text x="1106" y="419.5">VCHARINK</text><text x="1106" y="440.5">TESTMODE</text><text x="1106" y="461.9">VBATBB1</text><text x="1106" y="471.9">VBATBB2</text><text x="1106" y="481.9">VBATBB3</text><text x="1106" y="492.5">VBATBB4</text><text x="1106" y="502.5">VBATBB5</text><text x="1106" y="523.5">PWRONX</text><text x="1106" y="543.5">OSCIN</text><text x="1106" y="553.5">OSCOUT</text><text x="1106" y="574.8">VBACK</text><text x="1106" y="585">VRTC</text><text x="1106" y="595.9">OSCCAP</text><text x="1106" y="615.9">VDAAUD1</text><text x="1106" y="636.9">MICBCAP</text><text x="1106" y="646.9">MICB1</text><text x="1106" y="658">MIC1P</text><text x="1106" y="668">MIC1N</text><text x="1106" y="698.7">MICB2</text><text x="1106" y="708.7">MIC2P</text><text x="1106" y="719.8">MIC2N</text><text x="1106" y="729.8">MIC3P</text><text x="1106" y="739.8">MIC3N</text><text x="1106" y="749.8">MICSUB</text><text x="1106" y="760.9">VSAAUD1</text><text x="1106" y="770.9">HOOKINT</text><text x="1106" y="791.9">VDD28</text><text x="1106" y="801.9">VDD18</text><text x="1106" y="821.9">PURX</text><text x="1106" y="831.9">SLEEPX</text><text x="1106" y="843">SLEEPCLK</text><text x="1106" y="863.7">EARDATA</text><text x="1106" y="873.7">MICDATA</text><text x="1106" y="894.8">UEMINT</text><text x="1106" y="904.8">CBUSCLK</text><text x="1106" y="914.8">CBUSDA</text><text x="1106" y="925.5">CBUSENX</text><text x="1106" y="946.9">SIMIODAI</text><text x="1106" y="956.9">SIMCLKI</text><text x="1106" y="966.9">SIMIOCTRL</text><text x="1106" y="987.5">IRTX</text><text x="1106" y="998">IRRX</text><text x="1106" y="1018.4">MBUSTX</text><text x="1106" y="1028.4">MBUSRX</text><text x="1106" y="1048.7">FBUSTXI</text><text x="1106" y="1059.5">FBUSRXI</text><text x="1106" y="1080.5">DBUSCLK</text><text x="1106" y="1090.9">DBUSDA</text><text x="1106" y="1101.2">DBUSENX</text><text x="1106" y="1121.9">RFCONVCLK</text><text x="1106" y="1142.3">RXID</text><text x="1106" y="1152.5">RXQD</text><text x="1106" y="1173.7">TXID</text><text x="1106" y="1183.7">TXQD</text><text x="1106" y="1193.7">AUXD</text><text x="1106" y="1204.1">VSS</text><text x="1106" y="1224.8">BSI</text><text x="1106" y="1234.8">BTEMP</text><text x="1106" y="1245.9">KEYB1</text><text x="1106" y="1255.9">KEYB2</text><text x="1106" y="1265.9">LS</text><text x="1106" y="1275.9">VCXOTEMP</text><text x="1106" y="1286.9">PATEMP</text><text x="1106" y="1307.5">VBATVR1</text><text x="1106" y="1317.5">VBATVR2</text><text x="1106" y="1328">VBATVR3</text><text x="1106" y="1338">VBATVR4</text><text x="1106" y="1348.5">VBATVR5</text><text x="1106" y="1358.5">VBATVR6</text><text x="1106" y="1369.1">VBATVR7</text><text x="1106" y="1389.8">GNDTH1</text><text x="1106" y="1399.8">GNDTH2</text><text x="1106" y="1409.8">GNDTH3</text><text x="1106" y="1420.5">GNDTH4</text><text x="1106" y="1430.5">GNDTH5</text><text x="1106" y="1441.2">GNDTH6</text><text x="1106" y="1451.5">GNDTH7</text><text x="1106" y="1461.8">GNDTH8</text><text x="1106" y="1471.8">GNDTH9</text><text x="1106" y="1482.2">GNDTH10</text><text x="1106" y="1492.5">GNDTH11</text><text x="1106" y="1502.8">GNDTH12</text>
</g>
<!-- chip left pin numbers -->
<g class="m">
<text x="1082" y="397.5">M9</text><text x="1082" y="407.5">P9</text><text x="1082" y="417.5">L6</text><text x="1082" y="438.5">D5</text><text x="1082" y="459.9">P8</text><text x="1082" y="469.9">N9</text><text x="1082" y="479.9">N11</text><text x="1082" y="490.5">N14</text><text x="1082" y="500.5">A1</text><text x="1082" y="521.5">P7</text><text x="1082" y="541.5">P1</text><text x="1082" y="551.5">P2</text><text x="1082" y="572.8">P3</text><text x="1082" y="583">N3</text><text x="1082" y="593.9">M4</text><text x="1082" y="613.9">K4</text><text x="1082" y="634.9">H2</text><text x="1082" y="644.9">H1</text><text x="1082" y="656">J2</text><text x="1082" y="666">J1</text><text x="1082" y="696.7">H3</text><text x="1082" y="706.7">J3</text><text x="1082" y="717.8">J4</text><text x="1082" y="727.8">K2</text><text x="1082" y="737.8">K1</text><text x="1082" y="747.8">K3</text><text x="1082" y="758.9">M3</text><text x="1082" y="768.9">N7</text><text x="1082" y="789.9">C4</text><text x="1082" y="799.9">A9</text><text x="1082" y="819.9">C10</text><text x="1082" y="829.9">B11</text><text x="1082" y="841">D9</text><text x="1082" y="861.7">B6</text><text x="1082" y="871.7">A6</text><text x="1082" y="892.8">A10</text><text x="1082" y="902.8">A8</text><text x="1082" y="912.8">B7</text><text x="1082" y="923.5">C8</text><text x="1082" y="944.9">B5</text><text x="1082" y="954.9">A5</text><text x="1082" y="964.9">C5</text><text x="1082" y="985.5">B8</text><text x="1082" y="996">B9</text><text x="1082" y="1016.4">C6</text><text x="1082" y="1026.4">D6</text><text x="1082" y="1046.7">A7</text><text x="1082" y="1057.5">C7</text><text x="1082" y="1078.5">D10</text><text x="1082" y="1088.9">A11</text><text x="1082" y="1099.2">B10</text><text x="1082" y="1119.9">A13</text><text x="1082" y="1140.3">C11</text><text x="1082" y="1150.5">A14</text><text x="1082" y="1171.7">A12</text><text x="1082" y="1181.7">B12</text><text x="1082" y="1191.7">D11</text><text x="1082" y="1202.1">C9</text><text x="1082" y="1222.8">C2</text><text x="1082" y="1232.8">D3</text><text x="1082" y="1243.9">D1</text><text x="1082" y="1253.9">D2</text><text x="1082" y="1263.9">C1</text><text x="1082" y="1273.9">E3</text><text x="1082" y="1284.9">D4</text><text x="1082" y="1305.5">P13</text><text x="1082" y="1315.5">M14</text><text x="1082" y="1326">J14</text><text x="1082" y="1336">K11</text><text x="1082" y="1346.5">K13</text><text x="1082" y="1356.5">L11</text><text x="1082" y="1367.1">L14</text><text x="1082" y="1387.8">F6</text><text x="1082" y="1397.8">F7</text><text x="1082" y="1407.8">F8</text><text x="1082" y="1418.5">F9</text><text x="1082" y="1428.5">G6</text><text x="1082" y="1439.2">G7</text><text x="1082" y="1449.5">G8</text><text x="1082" y="1459.8">G9</text><text x="1082" y="1469.8">H6</text><text x="1082" y="1480.2">H7</text><text x="1082" y="1490.5">H8</text><text x="1082" y="1500.8">H9</text>
</g>
<!-- chip right names -->
<g class="e">
<text x="1207" y="399.5">VCHAROUT1</text><text x="1207" y="409.5">VCHAROUT2</text><text x="1207" y="419.5">VCHAROUTK</text><text x="1207" y="440.5">VBATREGS</text><text x="1207" y="451.9">GNDREGS</text><text x="1207" y="471.9">PWM0</text><text x="1207" y="481.9">PWM1C</text><text x="1207" y="492.5">CHDISX</text><text x="1207" y="513">VANA</text><text x="1207" y="523.5">VFLASH1</text><text x="1207" y="533.5">VFLASH2</text><text x="1207" y="543.5">VCORE</text><text x="1207" y="553.5">VIO</text><text x="1207" y="574.8">GNDFLASH1</text><text x="1207" y="595.9">VDAAUD2</text><text x="1207" y="605.5">EARP</text><text x="1207" y="615.9">EARN</text><text x="1207" y="626.9">XEAR</text><text x="1207" y="646.9">HEADINT</text><text x="1207" y="658">HF</text><text x="1207" y="668">HFCM</text><text x="1207" y="678">VSAAUD2</text><text x="1207" y="698.7">VBATDRIV</text><text x="1207" y="708.7">BUZZO</text><text x="1207" y="719.8">VIBRA</text><text x="1207" y="729.8">CALLED1</text><text x="1207" y="739.8">CALLED2</text><text x="1207" y="749.8">VSADRIV1</text><text x="1207" y="770.9">DLIGHT</text><text x="1207" y="780.9">KLIGHT</text><text x="1207" y="791.9">VSADRIV2</text><text x="1207" y="812.5">VSIM</text><text x="1207" y="821.9">SIMIODAO</text><text x="1207" y="831.9">SIMCLKO</text><text x="1207" y="842">SIMRST</text><text x="1207" y="853.7">SIMCARDDET</text><text x="1207" y="863.7">VSIMGND</text><text x="1207" y="884.5">IRLEDC</text><text x="1207" y="894.8">IRRXN</text><text x="1207" y="914.8">MBUS</text><text x="1207" y="936.2">FBUSTXO</text><text x="1207" y="946.9">FBUSRXO</text><text x="1207" y="966.9">VDACONVRX</text><text x="1207" y="976.9">RXIINP</text><text x="1207" y="987.5">RXIINN</text><text x="1207" y="998">RXQINP</text><text x="1207" y="1008">RXQINN</text><text x="1207" y="1018.4">VSACONVRX</text><text x="1207" y="1038.7">VDACONVTX</text><text x="1207" y="1048.7">TXIOUTP</text><text x="1207" y="1059.5">TXIOUTN</text><text x="1207" y="1069.8">TXQOUTP</text><text x="1207" y="1080.5">TXQOUTN</text><text x="1207" y="1090.9">VSACONVTX</text><text x="1207" y="1111.2">AUXOUT</text><text x="1207" y="1121.9">TXPWRDET</text><text x="1207" y="1132.3">AFCOUT</text><text x="1207" y="1153">VREFRFO1</text><text x="1207" y="1163">VREFRFO2</text><text x="1207" y="1183.7">VREF25BB</text><text x="1207" y="1193.7">VREF25RF</text><text x="1207" y="1204.1">VREF278</text><text x="1207" y="1224.8">CCP</text><text x="1207" y="1234.8">CCN</text><text x="1207" y="1245.8">VPUMP</text><text x="1207" y="1266.2">GNDVR1</text><text x="1207" y="1286.8">VR1A</text><text x="1207" y="1296.8">VR1B</text><text x="1207" y="1307.8">VR2</text><text x="1207" y="1317.8">VR3</text><text x="1207" y="1327.8">VR4</text><text x="1207" y="1337.8">VR5</text><text x="1207" y="1348.8">VR6</text><text x="1207" y="1358.8">VR7</text><text x="1207" y="1379.8">IPA1</text><text x="1207" y="1389.8">IPA2</text><text x="1207" y="1399.8">ISET</text><text x="1207" y="1420.5">VBG</text><text x="1207" y="1471.8">GNDTH13</text><text x="1207" y="1482.2">GNDTH14</text><text x="1207" y="1492.5">GNDTH15</text><text x="1207" y="1502.8">GNDTH16</text>
</g>
<!-- chip right pin numbers -->
<g class="m">
<text x="1226.5" y="397.5">N10</text><text x="1226.5" y="407.5">P10</text><text x="1226.5" y="417.5">L9</text><text x="1226.5" y="438.5">M10</text><text x="1226.5" y="449.9">L10</text><text x="1226.5" y="469.9">M7</text><text x="1226.5" y="479.9">P4</text><text x="1226.5" y="490.5">M5</text><text x="1226.5" y="511">N8</text><text x="1226.5" y="521.5">M8</text><text x="1226.5" y="531.5">P11</text><text x="1226.5" y="541.5">M13</text><text x="1226.5" y="551.5">B1</text><text x="1226.5" y="572.8">L5</text><text x="1226.5" y="593.9">N2</text><text x="1226.5" y="603.5">M2</text><text x="1226.5" y="613.9">M1</text><text x="1226.5" y="624.9">N1</text><text x="1226.5" y="644.9">N6</text><text x="1226.5" y="656">L1</text><text x="1226.5" y="666">L2</text><text x="1226.5" y="676">L3</text><text x="1226.5" y="696.7">F2</text><text x="1226.5" y="706.7">G2</text><text x="1226.5" y="717.8">G3</text><text x="1226.5" y="727.8">E1</text><text x="1226.5" y="737.8">E2</text><text x="1226.5" y="747.8">F4</text><text x="1226.5" y="768.9">F1</text><text x="1226.5" y="778.9">F3</text><text x="1226.5" y="789.9">G1</text><text x="1226.5" y="810.5">C3</text><text x="1226.5" y="819.9">B2</text><text x="1226.5" y="829.9">B3</text><text x="1226.5" y="840">A2</text><text x="1226.5" y="851.7">P6</text><text x="1226.5" y="861.7">A3</text><text x="1226.5" y="882.5">N4</text><text x="1226.5" y="892.8">L4</text><text x="1226.5" y="912.8">M6</text><text x="1226.5" y="934.2">N5</text><text x="1226.5" y="944.9">P5</text><text x="1226.5" y="964.9">B13</text><text x="1226.5" y="974.9">C13</text><text x="1226.5" y="985.5">B14</text><text x="1226.5" y="996">D12</text><text x="1226.5" y="1006">C14</text><text x="1226.5" y="1016.4">C12</text><text x="1226.5" y="1036.7">F11</text><text x="1226.5" y="1046.7">E11</text><text x="1226.5" y="1057.5">D14</text><text x="1226.5" y="1067.8">E14</text><text x="1226.5" y="1078.5">E12</text><text x="1226.5" y="1088.9">F12</text><text x="1226.5" y="1109.2">E13</text><text x="1226.5" y="1119.9">E4</text><text x="1226.5" y="1130.3">D13</text><text x="1226.5" y="1151">H13</text><text x="1226.5" y="1161">H14</text><text x="1226.5" y="1181.7">G14</text><text x="1226.5" y="1191.7">G13</text><text x="1226.5" y="1202.1">H12</text><text x="1226.5" y="1222.8">P12</text><text x="1226.5" y="1232.8">M11</text><text x="1226.5" y="1243.8">N13</text><text x="1226.5" y="1264.2">N12</text><text x="1226.5" y="1284.8">P14</text><text x="1226.5" y="1294.8">M12</text><text x="1226.5" y="1305.8">L12</text><text x="1226.5" y="1315.8">J12</text><text x="1226.5" y="1325.8">K14</text><text x="1226.5" y="1335.8">J11</text><text x="1226.5" y="1346.8">L13</text><text x="1226.5" y="1356.8">K12</text><text x="1226.5" y="1377.8">F14</text><text x="1226.5" y="1387.8">F13</text><text x="1226.5" y="1397.8">G12</text><text x="1226.5" y="1418.5">J13</text><text x="1226.5" y="1469.8">J6</text><text x="1226.5" y="1480.2">J7</text><text x="1226.5" y="1490.5">J8</text><text x="1226.5" y="1500.8">J9</text>
</g>
<!-- misc labels centered -->
<g class="m">
<text x="1155.6" y="376">D200</text><text x="1155.6" y="385">UEM_V6.0_WOOGS_ENABLED_CROLLES</text>
<text x="606" y="337">0</text><text x="606" y="347">2</text><text x="607" y="357.5">1</text><text x="608" y="398.5">4</text><text x="607" y="408.5">3</text>
<text x="654" y="374.5">GND</text><text x="682.6" y="522">GND</text><text x="748.5" y="523.5">GND</text><text x="802" y="523.5">GND</text><text x="1036" y="457.5">GND</text>
<text x="887.8" y="419.5">VBATT6</text><text x="929" y="419.5">VBATT3</text><text x="970.4" y="419.5">VBATT2</text><text x="1011.7" y="419.5">VBATT1</text>
<text x="466" y="631.5">GND</text><text x="528" y="631.5">GND</text><text x="602" y="631.5">GND</text><text x="631" y="631.5">GND</text><text x="693" y="631.5">GND</text><text x="755" y="631.5">GND</text>
<text x="831.6" y="642.5">AGND2</text><text x="944.4" y="642.5">AGND1</text><text x="991" y="765.5">AGND1</text><text x="1045" y="768">AGND2</text>
<text x="728.6" y="650">2</text><text x="738.3" y="650">3</text><text x="749" y="650">4</text><text x="697" y="691.5">6</text><text x="707" y="691.5">5</text><text x="718" y="691.5">4</text><text x="728.6" y="691.5">3</text><text x="699" y="736">8</text><text x="699" y="746">9</text>
<text x="589" y="739.5">VFLASH1</text><text x="630.6" y="750">VIO</text><text x="589" y="848">GND</text><text x="631" y="839">GND</text>
<text x="377.5" y="781">L260</text><text x="377.5" y="828">L261</text><text x="377.5" y="875">L262</text><text x="375.5" y="922.3">L264</text><text x="374" y="978">L263</text><text x="374" y="1034">L265</text>
<text x="417" y="823.5">GND</text><text x="417" y="870.5">GND</text><text x="417" y="918.5">GND</text><text x="417" y="967.5">GND</text><text x="417" y="1027">GND</text><text x="417" y="1083">GND</text>
<text x="256.6" y="1186">X100</text><text x="465.8" y="1166">VBAT</text><text x="300" y="1272">GND</text><text x="411" y="1316">GND</text><text x="407" y="1280">C100</text><text x="399.5" y="1291">1/2 27p</text><text x="451" y="1280">C100</text><text x="442" y="1291">2/2 27p</text>
<text x="253.6" y="1281.5">5,6,7,8= GND</text><text x="269.4" y="1296.5" style="font-size:13px">"BATTERY CONNECTOR"</text>
<text x="250" y="1210.5">1</text><text x="250" y="1243.5">3</text><text x="250" y="1264.5">4</text>
<text x="539.8" y="1223.5">0</text><text x="539.8" y="1233.5">1</text><text x="539.8" y="1244">2</text><text x="539.8" y="1254.5">3</text><text x="539.8" y="1265">4</text><text x="539.8" y="1275">5</text><text x="539.8" y="1285.5">6</text>
<text x="577" y="1122">VFLASH1</text><text x="565.8" y="1142">VANA</text><text x="617.3" y="1184">R202</text><text x="620" y="1194.5">4x100k</text>
<text x="1006.6" y="840.5">0</text><text x="1016.3" y="840.5">1</text><text x="1026.5" y="840.5">2</text>
<text x="895.4" y="863">0</text><text x="895.4" y="872.5">1</text>
<text x="924" y="924.5">0</text><text x="934.7" y="924.5">1</text><text x="944.4" y="924.5">2</text><text x="955" y="924.5">3</text>
<text x="944.4" y="965">31</text><text x="954.6" y="965">29</text><text x="965.3" y="965">30</text>
<text x="821" y="1058">0</text><text x="831.6" y="1058">1</text><text x="841.3" y="1058">2</text><text x="852" y="1058">3</text><text x="862.7" y="1058">4</text><text x="872.4" y="1058">5</text>
<text x="882.6" y="1099">0</text><text x="893.4" y="1099">1</text><text x="903.6" y="1099">2</text>
<text x="903.6" y="1191.7">0</text><text x="913.8" y="1191.7">1</text><text x="924" y="1191.7">2</text><text x="934.2" y="1191.7">3</text><text x="945" y="1191.7">4</text><text x="955" y="1191.7">5</text>
<text x="908.7" y="1216.5">R206</text><text x="908.7" y="1242.5">4k7</text><text x="980.6" y="1221">R207</text><text x="979.6" y="1252.5">4k7</text><text x="1018" y="1219">GND</text>
<text x="745" y="1350.5">C220</text><text x="748.5" y="1358.5">10n</text><text x="786.7" y="1350.5">C240</text><text x="790" y="1358.5">10n</text><text x="827.6" y="1350.5">C241</text><text x="830" y="1358.5">1n0</text><text x="868.4" y="1350.5">C242</text><text x="871" y="1358.5">1n0</text><text x="895" y="1386">GND</text>
<text x="1022.4" y="1307.5">VBATT4</text><text x="1022.4" y="1338.5">VBATT5</text><text x="1023" y="1358.5">VBATT1</text>
<text x="1054.2" y="1529">GND</text><text x="1245" y="1529">GND</text><text x="1281" y="1529">GND</text><text x="1322" y="1529">GND</text>
<text x="1260" y="466.5">GND</text><text x="1569.4" y="508">GND</text><text x="1634" y="508">GND</text><text x="1270.4" y="590.5">GND</text>
<text x="1737.8" y="739.5">0</text><text x="1737.8" y="749.5">1</text><text x="1737.8" y="760">2</text><text x="1737.8" y="770">3</text><text x="1737.8" y="780">4</text><text x="1737.8" y="789">5</text>
<text x="1450" y="820">0</text><text x="1450" y="830">1</text><text x="1450" y="840.5">2</text><text x="1450" y="851.5">3</text>
<text x="1908.6" y="834.5">R388</text><text x="1908.6" y="844">EMIF03-SIM01</text><text x="1898.6" y="872">R1</text><text x="1898.6" y="883">R2</text><text x="1898.6" y="894">R3</text><text x="1838.2" y="899.5">GND</text><text x="1785.8" y="929">GND</text>
<text x="1755.3" y="869">3</text><text x="1755.3" y="879.5">1</text><text x="1755.3" y="889.5">2</text><text x="1755.3" y="900">0</text>
<text x="2162.8" y="906.5">X386</text><text x="2163.3" y="916">C707-10M006-036-2</text><text x="2120.8" y="930.5">1</text><text x="2119.8" y="941">2</text><text x="2119.8" y="951">3</text><text x="2208.7" y="930.5">6</text><text x="2208.7" y="941">5</text><text x="2208.7" y="951">4</text><text x="2168.3" y="978" style="font-size:12.5px">"OCT3" SIM READER</text><text x="2238" y="978">GND</text><text x="2169.3" y="994">R386</text><text x="2164.8" y="1016">10R</text><text x="2247.7" y="1044">GND</text><text x="2283" y="914.5">VSIM</text>
<text x="1666.4" y="913">0</text><text x="1666.4" y="923.5">1</text><text x="1666.4" y="934">2</text>
<text x="1563" y="975.5">0</text><text x="1563.8" y="985">1</text><text x="1563.8" y="995.5">2</text><text x="1563.8" y="1005.5">3</text><text x="1563.8" y="1047.5">4</text><text x="1563.8" y="1057.5">5</text><text x="1563.8" y="1067.8">6</text><text x="1563.8" y="1078">7</text>
<text x="1707.9" y="1099">0</text><text x="1707.9" y="1109">1</text><text x="1707.9" y="1119">2</text><text x="1625" y="1150.5">9</text><text x="1625" y="1160.5">8</text>
<text x="1548.5" y="1260.8">GND</text><text x="1590" y="1260.8">GND</text><text x="1641.6" y="1260.8">GND</text><text x="1693" y="1260.8">GND</text><text x="1745" y="1260.8">GND</text>
<text x="1631" y="1405">GND</text><text x="1683" y="1405">GND</text><text x="1735" y="1405">GND</text><text x="1786" y="1405">GND</text><text x="1838" y="1405">GND</text><text x="1890" y="1405">GND</text><text x="1938" y="1405">GND</text><text x="1990" y="1405">GND</text>
<text x="1389" y="1219">C238</text><text x="1390" y="1227.8">100n</text><text x="1436" y="1219">C200</text><text x="1436" y="1227.8">100n</text><text x="1468" y="1255.8">C219</text><text x="1472" y="1263.5">1u0</text>
<text x="1336.7" y="966.5">C236</text><text x="1336.7" y="974.5">100n</text><text x="1313" y="1047">GND</text>
<text x="1389" y="698.5">C243</text><text x="1392" y="707.5">1u0</text><text x="1316.3" y="606">C235</text><text x="1319.4" y="613.5">1u0</text><text x="1393" y="817.5">GND</text>
<text x="1420" y="580">GND</text><text x="1505.6" y="580">GND</text><text x="1607.5" y="580">GND</text><text x="1690" y="580">GND</text><text x="1785.8" y="579">GND</text>
<text x="1882" y="619">0</text><text x="1882" y="631">1</text><text x="1913" y="632">7</text><text x="1912" y="654">0</text><text x="1913" y="664">1</text><text x="1912" y="675">2</text>
</g>
<!-- start-anchored labels -->
<g>
<text x="479.6" y="509">B200</text><text x="479.6" y="519">32.768kHz</text><text x="473" y="575">C209</text><text x="473" y="586">10p</text><text x="535.7" y="575">C210</text><text x="535.7" y="586">10p</text><text x="572.5" y="584.5">VBACK</text><text x="644.4" y="599">C211</text><text x="644.4" y="607">1u0</text><text x="706.6" y="599">C212</text><text x="706.6" y="607">1u0</text><text x="769" y="609">1u0</text><text x="769" y="617.5">C213</text><text x="840.8" y="617.5">1u0</text><text x="840.8" y="627">C214</text><text x="1005" y="617.5">1u0</text><text x="1010" y="637.5">C215</text>
<text x="658" y="493.5">S302</text><text x="805.6" y="486">C310</text><text x="808" y="494.5">22p</text><text x="828" y="431">R306</text><text x="830" y="458">10k</text>
<text x="597" y="809.5">C239</text><text x="597" y="818">100n</text><text x="637.8" y="820.5">C218</text><text x="637.8" y="828.5">100n</text>
<text x="426" y="806.6" style="font-size:8.5px">C260</text><text x="431" y="813" style="font-size:8.5px">1u0</text><text x="426" y="853" style="font-size:8.5px">C261</text><text x="431" y="859" style="font-size:8.5px">1u0</text><text x="422" y="901" style="font-size:8.5px">C262</text><text x="427" y="906.6" style="font-size:8.5px">1u0</text><text x="424" y="944.4" style="font-size:8.5px">C264</text><text x="429" y="950" style="font-size:8.5px">1u0</text><text x="422" y="1008" style="font-size:8.5px">C263</text><text x="427" y="1014.4" style="font-size:8.5px">1u0</text><text x="424" y="1062.6" style="font-size:8.5px">C265</text><text x="429" y="1068.7" style="font-size:8.5px">1u0</text>
<text x="309.7" y="1145">J100</text><text x="321" y="1156">J101</text><text x="331.6" y="1167">J102</text>
<text x="254" y="1199.5" style="font-size:8.5px">Vbat</text><text x="256" y="1221.5" style="font-size:8.5px">BSI</text><text x="248" y="1232.5" style="font-size:8.5px">@ gnd</text><text x="256" y="1254" style="font-size:8.5px">Gnd</text>
<text x="1572.4" y="438">C201</text><text x="1576.5" y="446.5">1u0</text><text x="1646" y="438.5">C202</text><text x="1646" y="446.5">10n</text><text x="1642.5" y="375">VBAT</text>
<text x="1441.8" y="567.5">C207</text><text x="1449" y="575.5">1u0</text><text x="1532" y="567.5">C208</text><text x="1532" y="575.5">1u0</text><text x="1614" y="552">C204</text><text x="1614" y="559.5">1u0</text><text x="1697.4" y="552">C205</text><text x="1697.4" y="559.5">1u0</text><text x="1783" y="552">C206</text><text x="1789" y="559.5">1u0</text>
<text x="1466" y="559.5" style="font-size:8.5px">VIO</text><text x="1407" y="590" style="font-size:8.5px">VANA</text><text x="1347" y="611.4">AGND2</text><text x="1283.7" y="683.5">AGND2</text><text x="1512.8" y="681">VBAT</text><text x="1416" y="703">GND</text><text x="1412" y="804">C203</text><text x="1413" y="812.8">1u0</text><text x="1281" y="755.3">GND</text><text x="1281" y="797">GND</text><text x="1274" y="866.5">GND</text>
<text x="1394" y="952.8">VANA</text><text x="1363.8" y="971">GND</text><text x="1325.5" y="1029">C237</text><text x="1325.5" y="1036.7">100n</text><text x="1352" y="1021.5">VANA</text><text x="1274" y="1023.5">GND</text><text x="1274" y="1095.3">GND</text><text x="1274" y="1270">GND</text>
<text x="2029" y="833">J386</text><text x="2060.4" y="833">J387</text><text x="2091" y="833">J388</text><text x="2120.9" y="833">J389</text>
<text x="1762.3" y="869" style="font-size:8.5px">SIMCLKO</text><text x="1762.3" y="879.5" style="font-size:8.5px">SIMRST</text><text x="1762.3" y="889.5" style="font-size:8.5px">SIMIODAO</text>
<text x="2132.3" y="938" style="font-size:8.5px">SIMCLK</text><text x="2132.3" y="948" style="font-size:8.5px">SIMRST</text><text x="2132.3" y="958.5" style="font-size:8.5px">VSIM</text><text x="2260" y="1020">C390</text><text x="2260" y="1030.5">100n</text>
<text x="1560" y="1214.5">C230</text><text x="1564" y="1222.5">1u0</text><text x="1599" y="1216.5">C231</text><text x="1602" y="1224.5">1u0</text><text x="1651" y="1215.5">C234</text><text x="1654" y="1224">1u0</text><text x="1702" y="1216">C228</text><text x="1706" y="1223.5">1u0</text><text x="1754" y="1217">C229</text><text x="1760" y="1224.5">1u0</text>
<text x="1635" y="1379.5">C224</text><text x="1636" y="1387">1u0</text><text x="1688" y="1379.5">C225</text><text x="1689" y="1387">1u0</text><text x="1739" y="1380">C226</text><text x="1741" y="1387">1u0</text><text x="1797" y="1377.5">C222</text><text x="1803" y="1384.5">1u0</text><text x="1843" y="1379.5">C227</text><text x="1845" y="1387">1u0</text><text x="1901" y="1377.5">C223</text><text x="1907" y="1384.5">1u0</text><text x="1946" y="1379">C233</text><text x="1952" y="1386.5">1u0</text><text x="2000" y="1379.5">C221</text><text x="2003" y="1387">1u0</text>
<text x="1961" y="1302.8">VR1B</text><text x="1912" y="1313.5">VR2</text><text x="1860" y="1323.5">VR3</text><text x="1809" y="1333.5">VR4</text><text x="1758" y="1344.5">VR5</text><text x="1706" y="1354.8">VR6</text><text x="1654" y="1364.5">VR7</text>
<text x="1282" y="1382.8">IPA1</text><text x="1282" y="1393">IPA2</text><text x="1285" y="1470">C232</text><text x="1283" y="1477.5">1u0</text><text x="1329" y="1467.2">R422</text><text x="1330" y="1477.5">27k</text>
</g>
<g class="t m">
<text x="376.5" y="799.5">600R/100MHz</text><text x="376.5" y="847">600R/100MHz</text><text x="376.5" y="893.8">600R/100MHz</text><text x="374.5" y="940.8">600R/100MHz</text><text x="373.5" y="997">600R/100MHz</text><text x="373.5" y="1053">600R/100MHz</text><text x="583" y="603.5">G300</text><text x="605" y="610.5">3V3</text><text x="795" y="608.5">VANA</text>
</g>
<g class="e t"><text x="2197" y="938">SIMDATA</text><text x="2195" y="948">VSIM</text><text x="2197" y="958.5">GND</text></g>
<g class="e"><text x="677.5" y="472">"PWR SWITCH"</text></g>
<g transform="translate(736 476) rotate(-90)"><text x="0" y="0">R305</text></g>
<g transform="translate(766 490) rotate(-90)"><text x="0" y="0">14V/45V</text></g>
<!-- big labels -->
<g class="b e">
<text x="492" y="384">CHARGER(4:0)</text><text x="307.6" y="642.5">AUDIO(6:0)</text><text x="307.6" y="683.5">XAUDIO(17:0)</text>
<text x="779" y="861">PUSL(3:0)</text><text x="777.5" y="910.5">AUDIODATA(3:0)</text><text x="777.5" y="941.5">AUDUEMCTRL(3:0)</text><text x="775.5" y="982.5">GENIO(31:0)</text><text x="776.5" y="1075.5">IACCDIF(5:0)</text><text x="782" y="1117">RFCONVCTRL(2:0)</text><text x="776.5" y="1209.5">RFCONVDA(5:0)</text><text x="1734.8" y="879">SIMIF(3:0)</text>
</g>
<g class="b">
<text x="1813.7" y="807.5">UIDRV(5:0)</text><text x="1884.6" y="1001.5">ACCDIF(2:0)</text><text x="1883.6" y="1034.5">RFCONV(9:0)</text><text x="1883.6" y="1147.5">RFAUXCONV(2:0)</text>
</g>
<g class="m c">
<text x="474.5" y="764.5">VBATT1</text><text x="473" y="813.5">VBATT2</text><text x="473.5" y="858">VBATT3</text><text x="474.5" y="905">VBATT4</text><text x="475" y="961.5">VBATT5</text><text x="473.5" y="1017">VBATT6</text>
</g>
<g class="c">
<text x="382" y="1201">VBATT</text><text x="348.5" y="1223">BSI</text><text x="348.5" y="1233.5">BTEMP</text>
</g>
<g class="e"><text x="472" y="1362" style="font-size:13px">SLOWAD(6:0)</text></g>
</svg>
</body></html>
